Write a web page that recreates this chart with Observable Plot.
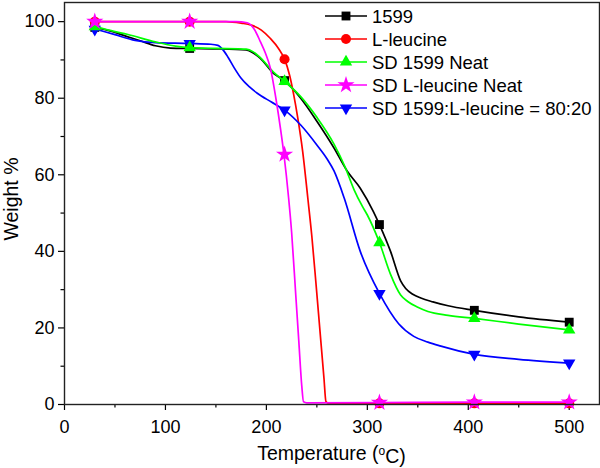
<!DOCTYPE html>
<html>
<head>
<meta charset="utf-8">
<script src="https://cdn.jsdelivr.net/npm/d3@7"></script>
<script src="https://cdn.jsdelivr.net/npm/@observablehq/plot@0.6"></script>
<style>
  html, body { margin: 0; padding: 0; background: #fff; }
  #chart { width: 600px; height: 468px; }
</style>
</head>
<body>
<div id="chart"></div>
<script>
// ---- Data ----
const seriesNames = ["1599", "L-leucine", "SD 1599 Neat", "SD L-leucine Neat", "SD 1599:L-leucine = 80:20"];
const seriesColors = ["#000000", "#ff0000", "#00ff00", "#ff00ff", "#0000ff"];

const markerT = [30, 124, 218, 312, 406, 500];

// 1599
const t1599 = [30, 45, 62, 75, 90, 105, 124, 150, 180, 187, 194, 207, 218, 234, 250, 267, 280, 293, 306, 312, 323, 333, 338, 345, 353, 365, 380, 406, 450, 500];
const w1599 = [98.5, 97.6, 96.1, 95, 93.7, 93.1, 93, 92.9, 92.6, 91.8, 90.4, 86.5, 84.6, 80, 74, 67, 61, 56.5, 50.4, 47, 40, 32.3, 30.3, 28.8, 27.8, 26.8, 25.8, 24.6, 22.9, 21.5];
const m1599 = [98.5, 93, 84.6, 47, 24.6, 21.5];

// L-leucine
const tLeu = [30, 124, 160, 175, 185, 195, 204, 212, 218, 223, 227, 231, 236, 241, 245, 249, 253, 257, 259, 262, 312, 406, 500];
const wLeu = [100, 100, 100, 99.6, 99.1, 97.8, 95.6, 93, 90.2, 86, 81, 75, 66, 54, 44, 32, 19.5, 7, 0.8, 0.3, 0.3, 0.3, 0.3];
const mLeu = [100, 100, 90.2, 0.3, 0.3, 0.3];

// SD 1599 Neat
const tSD1599 = [30, 50, 62, 90, 110, 124, 150, 180, 187, 194, 207, 218, 234, 250, 267, 278, 287, 295, 300, 312, 323, 333, 340, 350, 360, 380, 406, 450, 500];
const wSD1599 = [98.7, 97.4, 96.7, 94.7, 93.6, 93.2, 93, 92.8, 92.1, 90.6, 86.8, 84.4, 80.4, 75, 68, 62, 56, 51.8, 49.5, 42.3, 34, 28.6, 26.9, 25.4, 24.3, 23.3, 22.5, 21, 19.5];
const mSD1599 = [98.7, 93.2, 84.4, 42.3, 22.5, 19.5];

// SD L-leucine Neat
const tSDLeu = [30, 124, 170, 181, 188, 194, 199, 204, 210, 214, 217.4, 222, 225, 229, 232, 235, 236.8, 240, 312, 406, 500];
const wSDLeu = [100, 100, 100, 99.7, 98, 94.8, 91.8, 87.8, 79, 72, 65.3, 54, 45, 29, 17, 5, 0.7, 0.45, 0.5, 0.6, 0.6];
const mSDLeu = [100, 100, 65.3, 0.5, 0.6, 0.6];

// SD 1599:L-leucine = 80:20
const tMix = [30, 50, 70, 90, 124, 145, 152, 158, 162, 168, 175, 183, 191, 205, 218, 234, 250, 260, 267, 277, 293, 312, 331, 346, 360, 372, 406, 450, 500];
const wMix = [98.1, 96.6, 95.1, 94.5, 94.3, 94.1, 93.8, 92.3, 90.7, 88, 85.2, 83, 81.3, 79, 76.9, 73, 67.8, 64.2, 61, 54, 40, 29, 21.1, 17.8, 16.3, 15.3, 13.1, 11.8, 10.8];
const mMix = [98, 94.3, 76.9, 29, 13.1, 10.8];

const xTicks = [0, 100, 200, 300, 400, 500];
const xMinor = [50, 150, 250, 350, 450];
const yTicks = [0, 20, 40, 60, 80, 100];
const yMinor = [10, 30, 50, 70, 90];

// ---- Build tables ----
const curveT = [t1599, tLeu, tSD1599, tSDLeu, tMix];
const curveW = [w1599, wLeu, wSD1599, wSDLeu, wMix];
const markW = [m1599, mLeu, mSD1599, mSDLeu, mMix];

const triangleDown = {
  draw(context, size) {
    const y = -Math.sqrt(size / (Math.sqrt(3) * 3));
    const s3 = Math.sqrt(3);
    context.moveTo(0, -y * 2);
    context.lineTo(-s3 * y, y);
    context.lineTo(s3 * y, y);
    context.closePath();
  }
};
const symbols = ["square", "circle", "triangle", "star", triangleDown];
const radii = [5, 5, 4.6, 5.4, 4.6];

// draw order: black, red, blue, green, magenta
const order = [0, 1, 4, 2, 3];

const marks = [];
for (const i of order) {
  const line = curveT[i].map((t, k) => ({T: t, W: curveW[i][k]}));
  const pts = markerT.map((t, k) => ({T: t, W: markW[i][k]}));
  marks.push(Plot.line(line, {x: "T", y: "W", stroke: seriesColors[i], strokeWidth: 1.7, curve: "monotone-x"}));
  marks.push(Plot.dot(pts, {x: "T", y: "W", symbol: () => symbols[i], r: radii[i], fill: seriesColors[i], stroke: "none"}));
}

const fontFamily = "'Liberation Sans', Arial, Helvetica, sans-serif";

const svg = Plot.plot({
  width: 600,
  height: 468,
  marginLeft: 64,
  marginRight: 1,
  marginTop: 2,
  marginBottom: 64,
  style: {fontFamily, fontSize: "18px", color: "#000", background: "#fff"},
  x: {domain: [0, 530]},
  y: {domain: [0, 105]},
  symbol: {type: "identity"},
  marks: [
    Plot.axisX(xTicks, {tickSize: 6, tickPadding: 10, label: null, stroke: "#000", strokeWidth: 1.2, fontSize: 18}),
    Plot.axisX(xMinor, {tickSize: 3.5, tickFormat: () => "", label: null, stroke: "#000", strokeWidth: 1.2}),
    Plot.axisY(yTicks, {tickSize: 6, tickPadding: 4, label: null, stroke: "#000", strokeWidth: 1.2, fontSize: 18}),
    Plot.axisY(yMinor, {tickSize: 3.5, tickFormat: () => "", label: null, stroke: "#000", strokeWidth: 1.2}),
    ...marks,
    Plot.frame({stroke: "#222", strokeWidth: 1.4})
  ]
});

document.getElementById("chart").appendChild(svg);

const s = d3.select(svg);

// Axis titles
const xt = s.append("text")
  .attr("x", 331.5).attr("y", 460)
  .attr("text-anchor", "middle")
  .style("font-family", fontFamily).style("font-size", "19.5px").attr("fill", "#000");
xt.append("tspan").text("Temperature (");
xt.append("tspan").attr("dy", "-0.45em").style("font-size", "12px").text("o");
xt.append("tspan").attr("dy", "0.45em").text("C)");

s.append("text")
  .attr("transform", "translate(18,199) rotate(-90)")
  .attr("text-anchor", "middle")
  .style("font-family", fontFamily).style("font-size", "19.5px").attr("fill", "#000")
  .text("Weight %");

// Legend
const lg = s.append("g").attr("text-anchor", "start");
const rowY = [16, 39, 62, 85, 108];
seriesNames.forEach((name, i) => {
  const y = rowY[i];
  lg.append("line").attr("x1", 325).attr("x2", 367).attr("y1", y).attr("y2", y)
    .attr("stroke", seriesColors[i]).attr("stroke-width", 1.7);
  const sym = typeof symbols[i] === "string"
    ? {square: d3.symbolSquare, circle: d3.symbolCircle, triangle: d3.symbolTriangle, star: d3.symbolStar}[symbols[i]]
    : symbols[i];
  lg.append("path")
    .attr("d", d3.symbol().type(sym).size(Math.PI * radii[i] * radii[i])())
    .attr("transform", `translate(346,${y})`)
    .attr("fill", seriesColors[i]);
  lg.append("text").attr("x", 372).attr("y", y).attr("dy", "0.36em")
    .attr("text-anchor", "start")
    .style("font-family", fontFamily).style("font-size", "18.5px").attr("fill", "#000")
    .text(name);
});
</script>
</body>
</html>
